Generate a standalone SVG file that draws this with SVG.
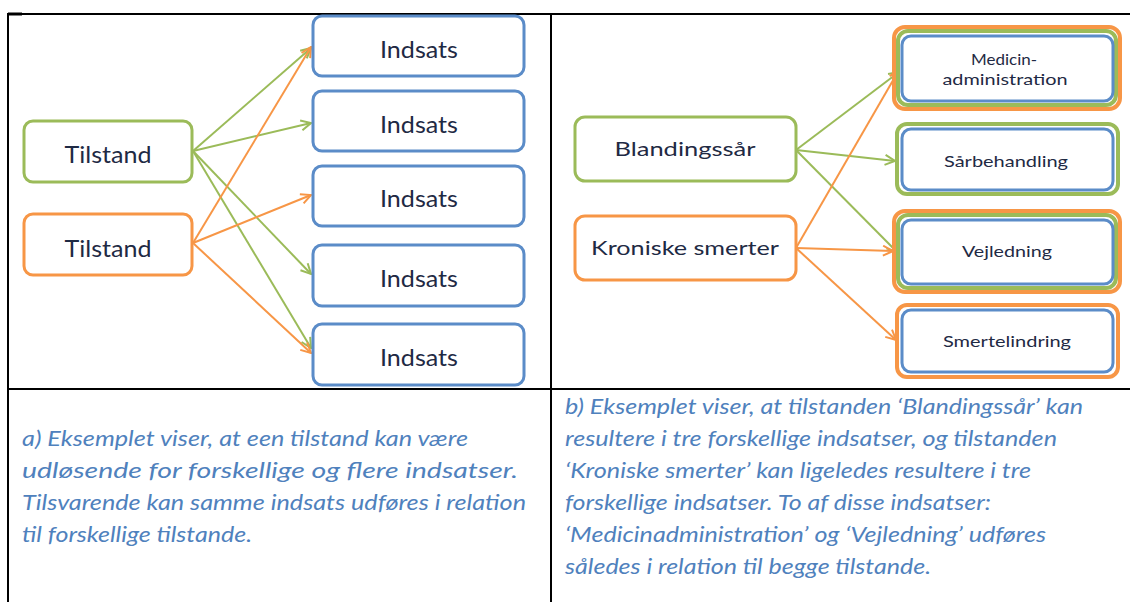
<svg xmlns="http://www.w3.org/2000/svg" width="1131" height="602" viewBox="0 0 1131 602">
<style>
.tbl{stroke:#000;stroke-width:2;fill:none}
.box{fill:#fff;stroke-width:3}
.g{stroke:#9BBB59}
.o{stroke:#F79646}
.b{stroke:#5B8CC8}
.nt{font-family:Lato,"Open Sans",sans-serif;fill:#1F2A44;text-anchor:middle}
.big{font-size:24px}
.mid{font-size:20px}
.sm{font-size:15px}
.cap{font-family:Lato,"Open Sans",sans-serif;font-style:italic;font-size:21px;fill:#4F81BD}
.cg{stroke:#9BBB59;stroke-width:2;fill:none;marker-end:url(#ag)}
.co{stroke:#F79646;stroke-width:2;fill:none;marker-end:url(#ao)}
</style>
<defs>
<marker id="ag" viewBox="0 0 12 12" refX="11" refY="6" markerWidth="12" markerHeight="12" markerUnits="userSpaceOnUse" orient="auto"><path d="M1,1 L11,6 L1,11" fill="none" stroke="#9BBB59" stroke-width="2"/></marker>
<marker id="ao" viewBox="0 0 12 12" refX="11" refY="6" markerWidth="12" markerHeight="12" markerUnits="userSpaceOnUse" orient="auto"><path d="M1,1 L11,6 L1,11" fill="none" stroke="#F79646" stroke-width="2"/></marker>
</defs>
<rect width="1131" height="602" fill="#fff"/>
<g id="table">
<path class="tbl" d="M8,14 H1130 M8,13 V602 M551,14 V602 M8,389 H1130"/>
<path d="M8,14 H22" stroke="#000" stroke-width="3"/>
</g>
<g id="connectors">
<line class="cg" x1="193" y1="151" x2="311" y2="48"/>
<line class="cg" x1="193" y1="151" x2="311" y2="123"/>
<line class="cg" x1="193" y1="151" x2="311" y2="274"/>
<line class="cg" x1="193" y1="151" x2="311" y2="348"/>
<line class="co" x1="193" y1="243" x2="311" y2="47"/>
<line class="co" x1="193" y1="243" x2="311" y2="195"/>
<line class="co" x1="193" y1="243" x2="311" y2="353"/>
<line class="cg" x1="796" y1="150" x2="899" y2="72"/>
<line class="cg" x1="796" y1="150" x2="895" y2="161"/>
<line class="cg" x1="796" y1="150" x2="897" y2="252"/>
<line class="co" x1="796" y1="248" x2="899" y2="70"/>
<line class="co" x1="796" y1="248" x2="893" y2="251"/>
<line class="co" x1="796" y1="248" x2="896" y2="340"/>
</g>
<g id="tilstand1"><rect class="box g" x="24" y="121" width="168" height="61" rx="9"/><text class="nt big" x="108" y="163" textLength="87" lengthAdjust="spacingAndGlyphs">Tilstand</text></g>
<g id="tilstand2"><rect class="box o" x="24" y="214" width="168" height="61" rx="9"/><text class="nt big" x="108" y="257" textLength="87" lengthAdjust="spacingAndGlyphs">Tilstand</text></g>
<g id="indsats1"><rect class="box b" x="313" y="16" width="211" height="60" rx="9"/><text class="nt big" x="419" y="58" textLength="78" lengthAdjust="spacingAndGlyphs">Indsats</text></g>
<g id="indsats2"><rect class="box b" x="313" y="91" width="211" height="60" rx="9"/><text class="nt big" x="419" y="133" textLength="78" lengthAdjust="spacingAndGlyphs">Indsats</text></g>
<g id="indsats3"><rect class="box b" x="313" y="166" width="211" height="60" rx="9"/><text class="nt big" x="419" y="207" textLength="78" lengthAdjust="spacingAndGlyphs">Indsats</text></g>
<g id="indsats4"><rect class="box b" x="313" y="245" width="211" height="61" rx="9"/><text class="nt big" x="419" y="287" textLength="78" lengthAdjust="spacingAndGlyphs">Indsats</text></g>
<g id="indsats5"><rect class="box b" x="313" y="324" width="211" height="61" rx="9"/><text class="nt big" x="419" y="366" textLength="78" lengthAdjust="spacingAndGlyphs">Indsats</text></g>
<g id="blandingssaar"><rect class="box g" x="575" y="117" width="221" height="64" rx="10"/><text class="nt mid" x="685" y="156" textLength="141" lengthAdjust="spacingAndGlyphs">Blandingssår</text></g>
<g id="kroniske"><rect class="box o" x="575" y="216" width="221" height="64" rx="10"/><text class="nt mid" x="685" y="255" textLength="188" lengthAdjust="spacingAndGlyphs">Kroniske smerter</text></g>
<g id="medicin">
<rect x="894" y="27" width="226" height="82" rx="11" fill="none" stroke="#F79646" stroke-width="4"/>
<rect x="898" y="31" width="218" height="74" rx="10" fill="none" stroke="#9BBB59" stroke-width="4"/>
<rect class="box b" x="902" y="36" width="211" height="65" rx="9"/>
<text class="nt sm" x="1004" y="65" textLength="66" lengthAdjust="spacingAndGlyphs">Medicin-</text>
<text class="nt sm" x="1005" y="85" textLength="125" lengthAdjust="spacingAndGlyphs">administration</text>
</g>
<g id="saarbehandling">
<rect x="897" y="124" width="221" height="70" rx="10" fill="none" stroke="#9BBB59" stroke-width="4"/>
<rect class="box b" x="902" y="129" width="211" height="61" rx="9"/>
<text class="nt sm" x="1006" y="167" textLength="124" lengthAdjust="spacingAndGlyphs">Sårbehandling</text>
</g>
<g id="vejledning">
<rect x="894" y="211" width="226" height="81" rx="11" fill="none" stroke="#F79646" stroke-width="4"/>
<rect x="898" y="215" width="218" height="73" rx="10" fill="none" stroke="#9BBB59" stroke-width="4"/>
<rect class="box b" x="902" y="220" width="211" height="64" rx="9"/>
<text class="nt sm" x="1007" y="257" textLength="90" lengthAdjust="spacingAndGlyphs">Vejledning</text>
</g>
<g id="smertelindring">
<rect x="897" y="305" width="221" height="72" rx="10" fill="none" stroke="#F79646" stroke-width="4"/>
<rect class="box b" x="902" y="310" width="211" height="62" rx="9"/>
<text class="nt sm" x="1007" y="347" textLength="128" lengthAdjust="spacingAndGlyphs">Smertelindring</text>
</g>
<g id="caption-a">
<text class="cap" x="22" y="446" textLength="446" lengthAdjust="spacingAndGlyphs">a) Eksemplet viser, at een tilstand kan være</text>
<text class="cap" x="22" y="478" textLength="496" lengthAdjust="spacingAndGlyphs">udløsende for forskellige og flere indsatser.</text>
<text class="cap" x="22" y="510" textLength="504" lengthAdjust="spacingAndGlyphs">Tilsvarende kan samme indsats udføres i relation</text>
<text class="cap" x="22" y="542" textLength="230" lengthAdjust="spacingAndGlyphs">til forskellige tilstande.</text>
</g>
<g id="caption-b">
<text class="cap" x="565" y="414" textLength="518" lengthAdjust="spacingAndGlyphs">b) Eksemplet viser, at tilstanden ‘Blandingssår’ kan</text>
<text class="cap" x="565" y="446" textLength="492" lengthAdjust="spacingAndGlyphs">resultere i tre forskellige indsatser, og tilstanden</text>
<text class="cap" x="565" y="478" textLength="466" lengthAdjust="spacingAndGlyphs">‘Kroniske smerter’ kan ligeledes resultere i tre</text>
<text class="cap" x="565" y="510" textLength="426" lengthAdjust="spacingAndGlyphs">forskellige indsatser. To af disse indsatser:</text>
<text class="cap" x="565" y="542" textLength="481" lengthAdjust="spacingAndGlyphs">‘Medicinadministration’ og ‘Vejledning’ udføres</text>
<text class="cap" x="565" y="574" textLength="366" lengthAdjust="spacingAndGlyphs">således i relation til begge tilstande.</text>
</g>
</svg>
